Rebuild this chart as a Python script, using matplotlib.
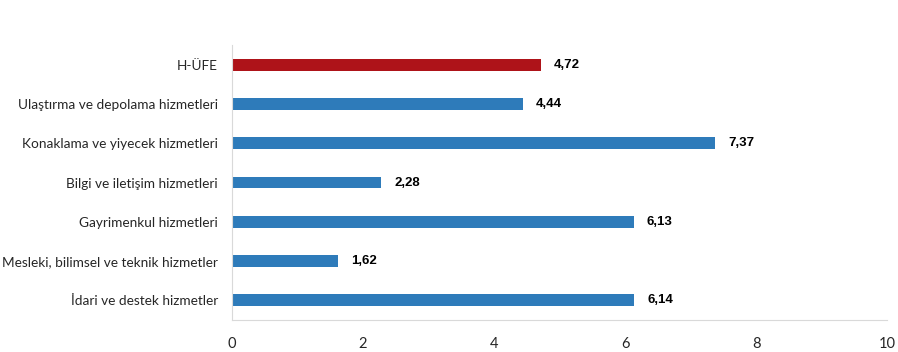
import matplotlib.pyplot as plt

kategoriler = ["H-ÜFE", "Ulaştırma ve depolama hizmetleri", "Konaklama ve yiyecek hizmetleri",
               "Bilgi ve iletişim hizmetleri", "Gayrimenkul hizmetleri",
               "Mesleki, bilimsel ve teknik hizmetler", "İdari ve destek hizmetler"]
degerler = [4.72, 4.44, 7.37, 2.28, 6.13, 1.62, 6.14]
etiketler = ["4,72", "4,44", "7,37", "2,28", "6,13", "1,62", "6,14"]
renkler = ["#AE1319"] + ["#2E7BBA"] * 6

fig = plt.figure(figsize=(8.98, 3.52), dpi=100)
ax = fig.add_axes([0.258, 0.091, 0.730, 0.781])

y = list(range(len(kategoriler)))
ax.barh(y, degerler, height=0.3, color=renkler)
ax.set_ylim(len(kategoriler) - 0.5, -0.5)
ax.set_xlim(0, 10)
ax.set_xticks([0, 2, 4, 6, 8, 10])
ax.set_yticks(y)
ax.set_yticklabels(kategoriler, fontfamily="Lato", fontsize=9.8, color="#262626")

for yi, v, t in zip(y, degerler, etiketler):
    ax.text(v + 0.2, yi, t, va="center", ha="left", fontsize=9.5, fontweight="bold",
            fontfamily="Liberation Sans", color="black")

for s in ["top", "right"]:
    ax.spines[s].set_visible(False)
ax.spines["left"].set_color("#D9D9D9")
ax.spines["bottom"].set_color("#D9D9D9")
ax.tick_params(length=0)
ax.tick_params(axis="x", pad=12, labelsize=10.5, labelcolor="#262626")
ax.tick_params(axis="y", pad=10)
for lbl in ax.get_xticklabels():
    lbl.set_fontfamily("Lato")

fig.savefig("out.png", dpi=100)
